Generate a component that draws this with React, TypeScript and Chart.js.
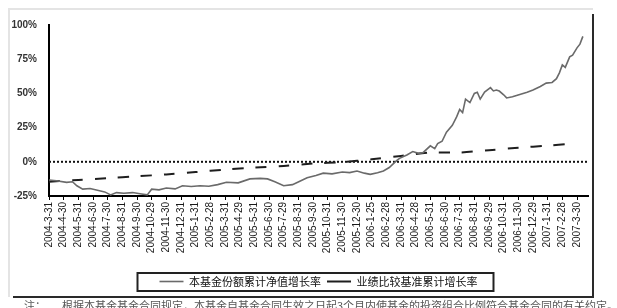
import React, { useEffect, useRef } from "react";
import { Chart, registerables } from "chart.js";

Chart.register(...registerables);

const xLabels = [
  "2004-3-31", "2004-4-30", "2004-5-31", "2004-6-30", "2004-7-30", "2004-8-31",
  "2004-9-30", "2004-10-29", "2004-11-30", "2004-12-31", "2005-1-31", "2005-2-28",
  "2005-3-31", "2005-4-29", "2005-5-31", "2005-6-30", "2005-7-29", "2005-8-31",
  "2005-9-30", "2005-10-31", "2005-11-30", "2005-12-30", "2006-1-25", "2006-2-28",
  "2006-3-31", "2006-4-28", "2006-5-31", "2006-6-30", "2006-7-31", "2006-8-31",
  "2006-9-29", "2006-10-31", "2006-11-30", "2006-12-29", "2007-1-31", "2007-2-28",
  "2007-3-30",
];

// fund: position along the month axis, cumulative NAV growth (%)
const fundPos = [
  0.0, 0.5, 1.2, 1.6, 1.9, 2.3, 2.8, 3.3, 3.8, 4.2, 4.6, 5.1, 5.7, 6.2, 6.7, 7.0,
  7.5, 8.0, 8.6, 9.1, 9.7, 10.3, 10.9, 11.5, 12.1, 12.9, 13.7, 14.4, 14.9, 15.4,
  16.0, 16.6, 17.1, 17.6, 18.2, 18.7, 19.3, 20.0, 20.5, 21.0, 21.5, 21.9, 22.4,
  22.8, 23.2, 23.7, 23.9, 24.4, 24.8, 25.2, 25.5, 26.0, 26.3, 26.5, 26.8, 27.1,
  27.5, 27.8, 28.0, 28.2, 28.4, 28.7, 29.0, 29.2, 29.4, 29.7, 30.1, 30.3, 30.5,
  30.7, 31.0, 31.2, 31.6, 32.1, 32.6, 33.0, 33.5, 33.9, 34.3, 34.6, 34.8, 35.0,
  35.2, 35.5, 35.7, 36.0, 36.2, 36.4,
];
const fundValues = [
  -13.3, -13.8, -15.0, -14.6, -17.5, -20.0, -19.5, -20.8, -22.0, -24.2, -22.5,
  -23.0, -22.5, -23.3, -24.2, -20.0, -20.5, -19.2, -19.8, -17.5, -18.0, -17.5,
  -17.9, -16.7, -15.0, -15.4, -12.5, -12.1, -12.5, -14.6, -17.5, -16.7, -14.2,
  -11.7, -10.0, -8.3, -8.8, -7.5, -7.9, -6.7, -8.3, -9.2, -8.0, -6.7, -4.2, 0.8,
  2.5, 5.0, 7.5, 6.2, 6.7, 11.7, 9.6, 13.3, 15.0, 21.7, 26.7, 33.0, 38.3, 36.0,
  45.8, 43.3, 50.0, 50.8, 45.8, 51.0, 54.2, 51.8, 52.5, 51.7, 49.0, 46.7, 47.5,
  49.2, 50.8, 52.5, 55.0, 57.5, 58.0, 60.8, 65.0, 70.8, 69.0, 76.7, 78.0, 83.3,
  86.0, 91.7,
];

// benchmark
const benchPos = [0, 2, 4, 6, 8, 10, 12, 14, 16, 18, 20, 22, 24, 26, 28, 30, 32, 34, 35.5];
const benchValues = [
  -14.6, -13.3, -11.9, -10.6, -9.2, -7.5, -5.7, -4.3, -3.0, -1.3, -0.2, 1.8, 4.3,
  6.7, 6.8, 8.5, 10.3, 11.8, 13.1,
];

const seriesNames = ["本基金份额累计净值增长率", "业绩比较基准累计增长率"];
const footnote = "注：";
const footnoteText = "根据本基金基金合同规定，本基金自基金合同生效之日起3个月内使基金的投资组合比例符合基金合同的有关约定。";

const FONT = "'Liberation Sans', Arial, sans-serif";
const CJK = "'Noto Sans CJK SC', 'Noto Sans', sans-serif";

const decor = {
  id: "decor",
  beforeDatasetsDraw(chart: any) {
    const { ctx, chartArea, scales } = chart;
    const y0 = scales.y.getPixelForValue(0);
    ctx.save();
    ctx.strokeStyle = "#111";
    ctx.lineWidth = 2;
    ctx.setLineDash([2, 2]);
    ctx.beginPath();
    ctx.moveTo(chartArea.left, y0);
    ctx.lineTo(chartArea.right, y0);
    ctx.stroke();
    ctx.restore();
  },
  afterDraw(chart: any) {
    const { ctx, legend } = chart;
    ctx.save();
    // legend frame
    if (legend && legend.legendHitBoxes && legend.legendHitBoxes.length) {
      const boxes = legend.legendHitBoxes;
      let l = Infinity, r = -Infinity, t = Infinity, b = -Infinity;
      boxes.forEach((h: any) => {
        l = Math.min(l, h.left);
        r = Math.max(r, h.left + h.width);
        t = Math.min(t, h.top);
        b = Math.max(b, h.top + h.height);
      });
      ctx.strokeStyle = "#222";
      ctx.lineWidth = 2;
      ctx.strokeRect(l - 22, t - 3, r - l + 38, b - t + 7);
    }
    // outer frame
    ctx.lineWidth = 2;
    ctx.strokeStyle = "#e4e4e4";
    ctx.beginPath();
    ctx.moveTo(9, 297);
    ctx.lineTo(9, 9);
    ctx.lineTo(593, 9);
    ctx.stroke();
    ctx.strokeStyle = "#2a2a2a";
    ctx.beginPath();
    ctx.moveTo(13, 297);
    ctx.lineTo(593, 297);
    ctx.lineTo(593, 14);
    ctx.stroke();
    // footnote
    ctx.fillStyle = "#555";
    ctx.font = `11px ${CJK}`;
    ctx.textBaseline = "top";
    ctx.fillText(footnote, 24, 300);
    ctx.fillText(footnoteText, 62, 300);
    ctx.restore();
  },
};

export default function App() {
  const ref = useRef<HTMLCanvasElement>(null);
  useEffect(() => {
    document.body.style.margin = "0";
    const chart = new Chart(ref.current as HTMLCanvasElement, {
      type: "line",
      data: {
        datasets: [
          {
            label: seriesNames[0],
            data: fundPos.map((x, i) => ({ x, y: fundValues[i] })),
            borderColor: "#6a6a6a",
            borderWidth: 1.6,
            pointRadius: 0,
            pointStyle: "line",
            tension: 0,
          },
          {
            label: seriesNames[1],
            data: benchPos.map((x, i) => ({ x, y: benchValues[i] })),
            borderColor: "#1e1e1e",
            borderWidth: 2,
            borderDash: [11, 12],
            pointRadius: 0,
            pointStyle: "line",
            tension: 0.3,
          },
        ],
      },
      plugins: [decor],
      options: {
        animation: false,
        responsive: false,
        maintainAspectRatio: false,
        layout: { padding: { left: 0, top: 25, right: 29, bottom: 11 } },
        plugins: {
          tooltip: { enabled: false },
          legend: {
            position: "bottom",
            fullSize: false,
            labels: {
              usePointStyle: true,
              pointStyleWidth: 24,
              boxWidth: 24,
              boxHeight: 10,
              padding: 6,
              color: "#111",
              font: { family: CJK, size: 11 },
            },
          },
        },
        scales: {
          x: {
            type: "linear",
            min: 0,
            max: 36.75,
            afterBuildTicks: (scale: any) => {
              scale.ticks = xLabels.map((_, i) => ({ value: i }));
            },
            afterFit: (scale: any) => {
              scale.height = 74;
            },
            border: { display: true, color: "#000", width: 2 },
            grid: { drawOnChartArea: false, color: "#000", tickLength: 4, lineWidth: 1 },
            ticks: {
              autoSkip: false,
              maxRotation: 90,
              minRotation: 90,
              padding: 2,
              color: "#1a1a1a",
              font: { family: FONT, size: 10 },
              callback: (v: any) => xLabels[Math.round(v)] ?? "",
            },
          },
          y: {
            min: -25,
            max: 100,
            afterFit: (scale: any) => {
              scale.width = 49;
            },
            border: { display: true, color: "#000", width: 2 },
            grid: { display: false, drawTicks: false },
            ticks: {
              stepSize: 25,
              padding: 12,
              color: "#333",
              font: { family: FONT, size: 10, weight: "bold" },
              callback: (v: any) => `${v}%`,
            },
          },
        },
      },
    } as any);
    return () => chart.destroy();
  }, []);
  return <canvas ref={ref} width={617} height={308} style={{ display: "block" }} />;
}
